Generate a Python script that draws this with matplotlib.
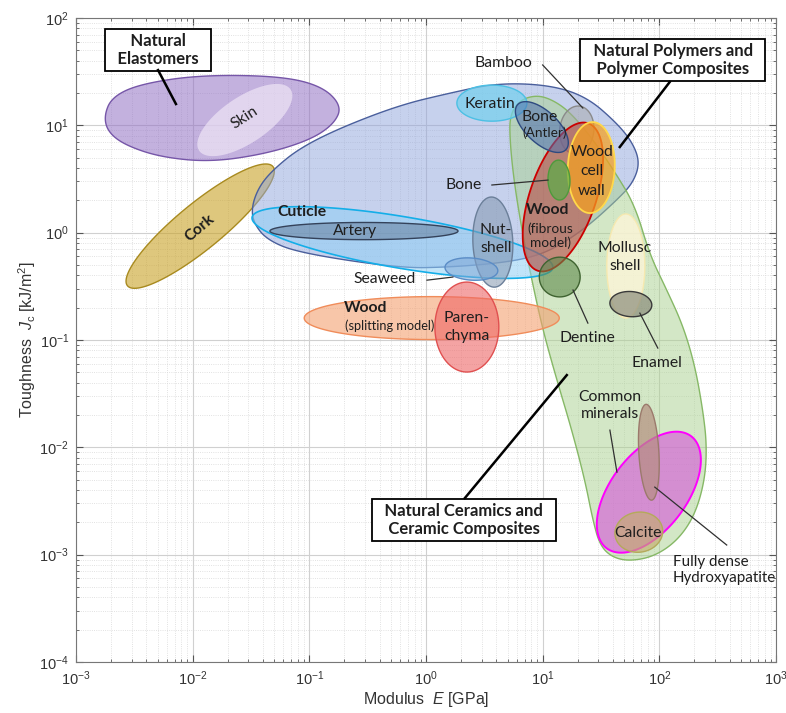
import numpy as np
import matplotlib
matplotlib.use("Agg")
import matplotlib.pyplot as plt
from matplotlib.ticker import NullFormatter

# Ashby-type map of natural materials: toughness Jc against Young's modulus E.
# Each bubble: centre (E in GPa, Jc in kJ/m^2), semi-axes in decades, tilt in degrees (log-log space)
materials = ["Skin", "Cork", "Cuticle", "Artery", "Keratin", "Bamboo",
             "Wood (fibrous)", "Wood cell wall", "Bone (Antler)", "Bone",
             "Nut-shell", "Seaweed", "Wood (splitting)", "Parenchyma",
             "Dentine", "Mollusc shell", "Enamel",
             "Hydroxyapatite", "Common minerals", "Calcite"]
E_mid = [0.028, 0.0116, 0.628, 0.294, 3.67, 19.6,
         14.9, 26.1, 9.84, 13.8,
         3.74, 2.45, 1.12, 2.24,
         14.0, 51.6, 57.0,
         81.3, 81.3, 66.7]
J_mid = [11.2, 1.15, 0.809, 1.035, 16.1, 9.04,
         2.15, 4.04, 9.64, 3.09,
         0.817, 0.458, 0.16, 0.132,
         0.386, 0.489, 0.216,
         0.00382, 0.0090, 0.00162]
semi_major = [0.485, 0.835, 1.31, 0.806, 0.30, 0.224,
              0.72, 0.424, 0.295, 0.186,
              0.42, 0.227, 1.093, 0.419,
              0.175, 0.485, 0.18,
              0.636, 0.447, 0.206]
semi_minor = [0.209, 0.205, 0.24, 0.08, 0.168, 0.146,
              0.285, 0.201, 0.143, 0.094,
              0.171, 0.103, 0.20, 0.274,
              0.185, 0.163, 0.117,
              0.335, 0.086, 0.186]
tilt = [37, 42, -10.4, 0, 0, 85,
        73, 88, -47, 92,
        92, -5, 0, 90,
        0, 90, -5,
        57, 93, 15]

# envelope outlines of the three material classes, log10(E) and log10(Jc)
elastomer_logE = [-2.760, -2.692, -2.452, -1.937, -1.252, -0.892, -0.721,
                  -0.789, -0.995, -1.380, -1.852, -2.280, -2.580, -2.726]
elastomer_logJ = [1.087, 1.264, 1.385, 1.469, 1.459, 1.366, 1.180,
                  1.012, 0.863, 0.733, 0.658, 0.705, 0.816, 0.938]
polymer_logE = [-1.492, -1.423, -1.295, -1.081, -0.738, -0.224, 0.205, 0.608,
                1.062, 1.379, 1.636, 1.773, 1.833, 1.773, 1.636, 1.379,
                1.122, 0.916, 0.633, 0.205, -0.224, -1.081, -1.363, -1.483]
polymer_logJ = [0.257, 0.444, 0.602, 0.788, 0.975, 1.189, 1.301, 1.394,
                1.376, 1.264, 1.021, 0.835, 0.649, 0.462, 0.304, 0.052,
                -0.134, -0.227, -0.283, -0.321, -0.330, -0.190, -0.069, 0.099]
ceramic_logE = [0.719, 0.805, 0.950, 1.087, 1.233, 1.422, 1.619, 1.790,
                1.919, 2.064, 2.201, 2.304, 2.373, 2.407, 2.390, 2.304,
                2.158, 1.961, 1.747, 1.593, 1.490, 1.430, 1.362, 1.250,
                1.122, 1.002, 0.907, 0.822, 0.753, 0.719]
ceramic_logJ = [1.096, 1.236, 1.282, 1.236, 1.124, 0.882, 0.565, 0.257,
                -0.209, -0.535, -0.861, -1.234, -1.653, -1.979, -2.306, -2.632,
                -2.865, -3.014, -3.061, -3.023, -2.911, -2.678, -2.306, -1.840,
                -1.374, -0.908, -0.442, 0.024, 0.490, 0.863]

E_ticks = [1e-3, 1e-2, 1e-1, 1e0, 1e1, 1e2, 1e3]
J_ticks = [1e-4, 1e-3, 1e-2, 1e-1, 1e0, 1e1, 1e2]

# face colour, edge colour, alpha, edge width
style = {
    "Skin": ("#f6eefa", "none", 0.6, 0),
    "Cork": ("#c9a227", "#a88a1f", 0.6, 1.0),
    "Cuticle": ("#8fcff5", "#14aee8", 0.55, 1.2),
    "Artery": ("#4a5c78", "#34425a", 0.38, 1.0),
    "Keratin": ("#74d0ee", "#4cc0e4", 0.7, 1.0),
    "Bamboo": ("#a6a6a6", "#8a8a8a", 0.5, 1.0),
    "Wood (fibrous)": ("#b8504a", "#cc0000", 0.62, 1.3),
    "Wood cell wall": ("#f5a020", "#ffd84a", 0.72, 1.3),
    "Bone (Antler)": ("#4f6fae", "#2e4a80", 0.55, 1.0),
    "Bone": ("#5aad46", "#4e9a3c", 0.7, 1.0),
    "Nut-shell": ("#8497b0", "#6b7f99", 0.55, 1.0),
    "Seaweed": ("#7fa7d6", "#5a8cc6", 0.55, 1.0),
    "Wood (splitting)": ("#f4a070", "#f08c5a", 0.6, 1.0),
    "Parenchyma": ("#ee6666", "#e05050", 0.6, 1.0),
    "Dentine": ("#5f8a4c", "#3f6330", 0.6, 1.0),
    "Mollusc shell": ("#fdf5d8", "#f6e9b0", 0.8, 1.0),
    "Enamel": ("#858575", "#3a3a3a", 0.65, 1.0),
    "Hydroxyapatite": ("#d55fd8", "#ff00ff", 0.65, 1.4),
    "Common minerals": ("#b58f80", "#9b7a6c", 0.7, 1.0),
    "Calcite": ("#c4ad6e", "#b4aa5a", 0.65, 1.0),
}


def ellipse(E, J, a, b, ang, n=240):
    t = np.linspace(0, 2 * np.pi, n)
    th = np.radians(ang)
    dx = a * np.cos(t) * np.cos(th) - b * np.sin(t) * np.sin(th)
    dy = a * np.cos(t) * np.sin(th) + b * np.sin(t) * np.cos(th)
    return E * 10 ** dx, J * 10 ** dy


def chaikin(x, y, passes=5):
    """corner cutting on a closed outline"""
    pts = np.column_stack([x, y])
    for _ in range(passes):
        nxt = np.roll(pts, -1, axis=0)
        new = np.empty((2 * len(pts), 2))
        new[0::2] = 0.75 * pts + 0.25 * nxt
        new[1::2] = 0.25 * pts + 0.75 * nxt
        pts = new
    return 10 ** pts[:, 0], 10 ** pts[:, 1]


plt.rcParams["font.family"] = ["Liberation Sans", "DejaVu Sans"]
plt.rcParams["mathtext.fontset"] = "custom"
plt.rcParams["mathtext.rm"] = "Liberation Sans"
plt.rcParams["mathtext.it"] = "Liberation Sans:italic"

fig = plt.figure(figsize=(7.86, 7.13), dpi=100)
ax = fig.add_axes([76 / 786, 1 - 662 / 713, 700 / 786, 644 / 713])
ax.set_xscale("log")
ax.set_yscale("log")
ax.set_xticks(E_ticks)
ax.set_yticks(J_ticks)
ax.set_xlim(1e-3, 1e3)
ax.set_ylim(1e-4, 1e2)
ax.xaxis.set_minor_formatter(NullFormatter())
ax.yaxis.set_minor_formatter(NullFormatter())

ax.grid(True, which="major", color="#d0d0d0", lw=0.8)
ax.grid(True, which="minor", color="#d8d8d8", lw=0.6, ls=":")
ax.set_axisbelow(True)
ax.tick_params(which="both", direction="in", top=True, right=True,
               colors="#555555", labelcolor="#333333", labelsize=10.5)
ax.tick_params(which="major", length=5, pad=5)
ax.tick_params(which="minor", length=2.5)
for s in ax.spines.values():
    s.set_color("#777777")
    s.set_linewidth(0.8)

ax.set_xlabel("Modulus  $\\it{E}$ [GPa]", fontsize=11.5, color="#333333", labelpad=2)
ax.set_ylabel("Toughness  $J_{\\rm c}$ [kJ/m$^2$]", fontsize=11.5, color="#333333", labelpad=1)


# class envelopes
def envelope(lx, ly, fc, ec, alpha, lw=1.0):
    x, y = chaikin(lx, ly)
    ax.fill(x, y, fc=fc, alpha=alpha, lw=0)
    ax.fill(x, y, fc="none", ec=ec, lw=lw)


envelope(elastomer_logE, elastomer_logJ, "#9271c4", "#7656a8", 0.55)


def bubble(name):
    i = materials.index(name)
    fc, ec, alpha, lw = style[name]
    x, y = ellipse(E_mid[i], J_mid[i], semi_major[i], semi_minor[i], tilt[i])
    ax.fill(x, y, fc=fc, alpha=alpha, lw=0)
    if lw:
        ax.fill(x, y, fc="none", ec=ec, lw=lw)


bubble("Skin")
bubble("Cork")
envelope(polymer_logE, polymer_logJ, "#8fa4dc", "#4a5f9c", 0.5)
envelope(ceramic_logE, ceramic_logJ, "#a9d18e", "#86b866", 0.5)

for name in ["Cuticle", "Artery", "Keratin", "Bamboo", "Wood (fibrous)",
             "Wood cell wall", "Bone (Antler)", "Bone", "Nut-shell", "Seaweed",
             "Wood (splitting)", "Parenchyma", "Dentine", "Mollusc shell",
             "Enamel", "Hydroxyapatite", "Common minerals", "Calcite"]:
    bubble(name)

# labels
lab = dict(family=["Lato", "DejaVu Sans"], color="#1e1e1e", ha="center", va="center",
           fontsize=11.3, linespacing=1.3)
small = {**lab, "fontsize": 9.8, "linespacing": 1.15}
ax.text(0.028, 11.7, "Skin", rotation=33, **lab)
ax.text(0.01156, 1.10, "Cork", rotation=40, fontweight="bold", **lab)
ax.text(0.0865, 1.556, "Cuticle", fontweight="bold", **lab)
ax.text(0.246, 1.035, "Artery", **lab)
ax.text(3.53, 15.8, "Keratin", **lab)
ax.text(9.46, 11.9, "Bone", **lab)
ax.text(10.4, 8.47, "(Antler)", **small)
ax.text(26.4, 3.75, "Wood\ncell\nwall", **{**lab, "linespacing": 1.5})
ax.text(11.1, 1.625, "Wood", fontweight="bold", **lab)
ax.text(11.7, 0.929, "(fibrous\nmodel)", **small)
ax.text(3.97, 0.871, "Nut-\nshell", **lab)
ax.text(0.305, 0.198, "Wood", fontweight="bold", **lab)
ax.text(0.491, 0.135, "(splitting model)", **{**small, "fontsize": 9.2})
ax.text(2.24, 0.132, "Paren-\nchyma", **lab)
ax.text(50.6, 0.593, "Mollusc\nshell", **lab)
ax.text(65.5, 0.00158, "Calcite", **lab)
ax.text(4.56, 38.1, "Bamboo", **lab)
ax.text(2.11, 2.78, "Bone", **lab)
ax.text(0.445, 0.370, "Seaweed", **lab)
ax.text(24.4, 0.104, "Dentine", **lab)
ax.text(95.2, 0.0610, "Enamel", **lab)
ax.text(37.7, 0.0247, "Common\nminerals", **lab)
ax.text(130.6, 0.000717, "Fully dense\nHydroxyapatite",
        **{**lab, "ha": "left", "linespacing": 1.2, "fontsize": 10.9})

# boxed class names; en spaces widen the frames sideways
box = dict(boxstyle="square,pad=0.25", fc="white", ec="black", lw=1.3)
boxlab = {**lab, "fontsize": 12, "linespacing": 1.15, "fontweight": "bold"}
sp = "\u2002"
ax.text(0.00505, 50.3, f"{sp}Natural{sp}\n{sp}Elastomers{sp}", bbox=box, **boxlab)
ax.text(130.6, 40.6, f"{sp}Natural Polymers and{sp}\n{sp}Polymer Composites{sp}", bbox=box, **boxlab)
ax.text(2.11, 0.0021, f"{sp}Natural Ceramics and{sp}\n{sp}Ceramic Composites{sp}", bbox=box, **boxlab)

# leader lines (start, end)
thick = [((0.00505, 32.7), (0.00719, 15.8)),
         ((123, 25.4), (45.8, 6.28)),
         ((2.15, 0.00336), (16.1, 0.0471))]
thin = [((10.0, 36.5), (22.1, 14.5)),
        ((3.67, 2.78), (11.1, 3.09)),
        ((1.02, 0.361), (1.70, 0.386)),
        ((18.2, 0.292), (24.4, 0.1437)),
        ((68.1, 0.178), (97.0, 0.0841)),
        ((37.7, 0.01446), (43.3, 0.00587)),
        ((91.4, 0.00426), (378, 0.00123))]
for (x0, y0), (x1, y1) in thick:
    ax.plot([x0, x1], [y0, y1], color="black", lw=1.8, zorder=3)
for (x0, y0), (x1, y1) in thin:
    ax.plot([x0, x1], [y0, y1], color="#303030", lw=0.9, zorder=3)

fig.savefig("out.png", dpi=100)
